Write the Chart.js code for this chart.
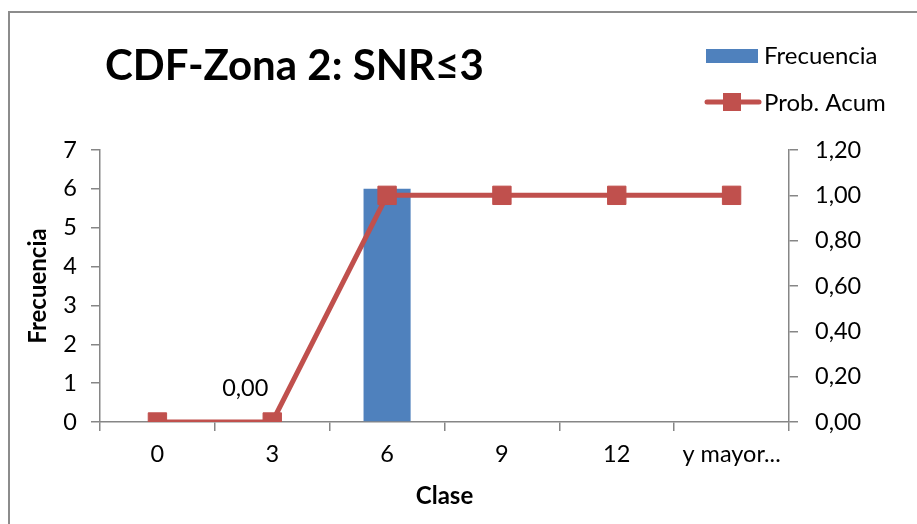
<!DOCTYPE html>
<html>
<head>
<meta charset="utf-8">
<script src="https://cdn.jsdelivr.net/npm/chart.js@4"></script>
<style>
  html, body { margin: 0; padding: 0; background: #fff; }
  #wrap { width: 917px; height: 524px; position: relative; }
</style>
</head>
<body>
<div id="wrap"><canvas id="cdfChart"></canvas></div>
<script>
const clases = ["0", "3", "6", "9", "12", "y mayor..."];
const frecuencia = [0, 0, 6, 0, 0, 0];
const probAcum = [0, 0, 1, 1, 1, 1];
const probLabelIdx = [1];

const chartTitle = "CDF-Zona 2: SNR\u22643";
const FONT = "Lato";
const BLUE = "#4F81BD";
const RED = "#C0504D";
const AXIS = "#868686";
const TICK_SIZE = 23.5;

const fmt = v => v.toFixed(2).replace(".", ",");

const extras = {
  id: "extras",
  beforeDraw(chart) {
    const ctx = chart.ctx;
    ctx.save();
    ctx.fillStyle = "#fff";
    ctx.fillRect(0, 0, chart.width, chart.height);
    ctx.strokeStyle = "#8c8c8c";
    ctx.lineWidth = 2;
    ctx.strokeRect(9, 12, 1000, 1000);
    ctx.restore();
  },
  afterDraw(chart) {
    const ctx = chart.ctx;
    ctx.save();
    // title
    ctx.fillStyle = "#000";
    ctx.font = "bold 42px " + FONT;
    ctx.textBaseline = "alphabetic";
    ctx.textAlign = "left";
    ctx.fillText(chartTitle, 105, 80);

    // legend
    const ds = chart.data.datasets;
    ctx.font = "24px " + FONT;
    ctx.textBaseline = "middle";
    ctx.fillStyle = ds[1].backgroundColor;
    ctx.fillRect(706, 49, 52, 14);
    ctx.fillStyle = "#000";
    ctx.fillText(ds[1].label, 764, 56);

    ctx.strokeStyle = ds[0].borderColor;
    ctx.lineWidth = 5;
    ctx.lineCap = "round";
    ctx.beginPath();
    ctx.moveTo(707, 102);
    ctx.lineTo(759, 102);
    ctx.stroke();
    ctx.fillStyle = ds[0].pointBackgroundColor;
    ctx.fillRect(723, 93, 18, 18);
    ctx.fillStyle = "#000";
    ctx.fillText(ds[0].label, 764, 103);

    // data label
    const meta = chart.getDatasetMeta(0);
    ctx.font = TICK_SIZE + "px " + FONT;
    ctx.textAlign = "center";
    probLabelIdx.forEach(i => {
      const pt = meta.data[i];
      ctx.fillText(fmt(probAcum[i]), pt.x - 27, pt.y - 34);
    });
    ctx.restore();
  }
};

new Chart(document.getElementById("cdfChart"), {
  type: "bar",
  data: {
    labels: clases,
    datasets: [
      {
        type: "line",
        label: "Prob. Acum",
        data: probAcum,
        yAxisID: "y1",
        borderColor: RED,
        borderWidth: 5,
        pointStyle: "rect",
        pointRadius: 13,
        pointBackgroundColor: RED,
        pointBorderColor: RED,
        pointBorderWidth: 1,
        tension: 0,
        order: 0
      },
      {
        label: "Frecuencia",
        data: frecuencia,
        yAxisID: "y",
        backgroundColor: BLUE,
        barPercentage: 0.41,
        categoryPercentage: 1,
        order: 1
      }
    ]
  },
  options: {
    responsive: true,
    maintainAspectRatio: false,
    animation: false,
    layout: { padding: { top: 150, left: 0, right: 0, bottom: 13 } },
    plugins: {
      legend: { display: false },
      title: { display: false },
      tooltip: { enabled: false }
    },
    scales: {
      x: {
        afterFit: s => { s.height = 89; },
        grid: { drawOnChartArea: false, color: AXIS, tickLength: 9, lineWidth: 1.5 },
        border: { color: AXIS, width: 1.5 },
        ticks: { color: "#000", font: { family: FONT, size: TICK_SIZE }, padding: 9, maxRotation: 0 },
        title: { display: true, text: "Clase", color: "#000", font: { family: FONT, size: 24, weight: "bold" }, padding: { top: 0, bottom: 0 } }
      },
      y: {
        position: "left",
        min: 0,
        max: 7,
        afterFit: s => { s.width = 100; },
        grid: { drawOnChartArea: false, color: AXIS, tickLength: 9, lineWidth: 1.5 },
        border: { color: AXIS, width: 1.5 },
        ticks: { stepSize: 1, color: "#000", font: { family: FONT, size: TICK_SIZE }, padding: 14 },
        title: { display: true, text: "Frecuencia", color: "#000", font: { family: FONT, size: 24, weight: "bold" }, padding: { top: 24, bottom: 0 } }
      },
      y1: {
        position: "right",
        min: 0,
        max: 1.2,
        afterFit: s => { s.width = 128; },
        grid: { drawOnChartArea: false, color: AXIS, tickLength: 9, lineWidth: 1.5 },
        border: { color: AXIS, width: 1.5 },
        ticks: { stepSize: 0.2, color: "#000", font: { family: FONT, size: TICK_SIZE }, padding: 17, callback: v => fmt(v) }
      }
    }
  },
  plugins: [extras]
});
</script>
</body>
</html>
